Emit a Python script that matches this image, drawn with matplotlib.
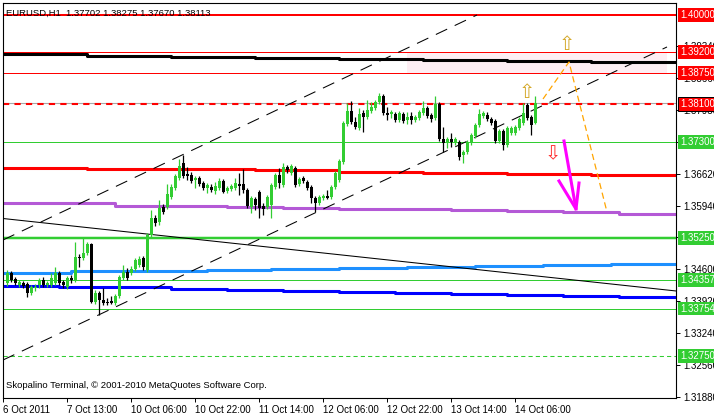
import numpy as np
import matplotlib
matplotlib.use("Agg")
import matplotlib.pyplot as plt
from matplotlib.transforms import blended_transform_factory

plt.rcParams["font.family"] = ["Liberation Sans", "DejaVu Sans"]

# ---------- EURUSD H1 candles (bar 1 .. 133) ----------
opens = [
    1.3430, 1.3451, 1.3438, 1.3425, 1.3430, 1.3428, 1.3408, 1.3419, 1.3425, 1.3436,
    1.3425, 1.3425, 1.3430, 1.3451, 1.3432, 1.3421, 1.3440, 1.3436, 1.3485, 1.3483,
    1.3493, 1.3513, 1.3389, 1.3408, 1.3394, 1.3389, 1.3391, 1.3387, 1.3402, 1.3440,
    1.3453, 1.3451, 1.3459, 1.3468, 1.3483, 1.3457, 1.3532, 1.3568, 1.3559, 1.3591,
    1.3591, 1.3612, 1.3632, 1.3653, 1.3685, 1.3661, 1.3659, 1.3649, 1.3653, 1.3642,
    1.3632, 1.3634, 1.3625, 1.3632, 1.3646, 1.3625, 1.3629, 1.3632, 1.3640, 1.3640,
    1.3627, 1.3591, 1.3608, 1.3623, 1.3593, 1.3591, 1.3595, 1.3634, 1.3659, 1.3638,
    1.3676, 1.3663, 1.3674, 1.3640, 1.3653, 1.3644, 1.3634, 1.3610, 1.3600, 1.3610,
    1.3615, 1.3612, 1.3634, 1.3649, 1.3687, 1.3768, 1.3795, 1.3772, 1.3759, 1.3791,
    1.3782, 1.3795, 1.3802, 1.3814, 1.3827, 1.3791, 1.3789, 1.3789, 1.3776, 1.3789,
    1.3776, 1.3785, 1.3776, 1.3780, 1.3791, 1.3802, 1.3787, 1.3780, 1.3810, 1.3736,
    1.3727, 1.3736, 1.3727, 1.3729, 1.3702, 1.3708, 1.3727, 1.3742, 1.3765, 1.3785,
    1.3787, 1.3778, 1.3774, 1.3731, 1.3753, 1.3723, 1.3748, 1.3748, 1.3759, 1.3770,
    1.3808, 1.3782, 1.37702,
]
highs = [
    1.3457, 1.3455, 1.3442, 1.3436, 1.3434, 1.3432, 1.3425, 1.3428, 1.3440, 1.3442,
    1.3434, 1.3451, 1.3464, 1.3455, 1.3436, 1.3445, 1.3447, 1.3517, 1.3491, 1.3525,
    1.3517, 1.3515, 1.3415, 1.3413, 1.3419, 1.3398, 1.3402, 1.3406, 1.3447, 1.3468,
    1.3462, 1.3466, 1.3483, 1.3487, 1.3487, 1.3536, 1.3585, 1.3574, 1.3606, 1.3598,
    1.3640, 1.3640, 1.3661, 1.3693, 1.3702, 1.3676, 1.3666, 1.3657, 1.3657, 1.3646,
    1.3642, 1.3640, 1.3644, 1.3653, 1.3651, 1.3636, 1.3640, 1.3653, 1.3663, 1.3672,
    1.3632, 1.3615, 1.3612, 1.3627, 1.3600, 1.3617, 1.3642, 1.3663, 1.3674, 1.3685,
    1.3680, 1.3683, 1.3678, 1.3655, 1.3657, 1.3649, 1.3638, 1.3615, 1.3617, 1.3619,
    1.3627, 1.3638, 1.3668, 1.3693, 1.3774, 1.3812, 1.3816, 1.3782, 1.3802, 1.3797,
    1.3819, 1.3814, 1.3819, 1.3833, 1.3831, 1.3804, 1.3797, 1.3793, 1.3795, 1.3793,
    1.3793, 1.3793, 1.3787, 1.3797, 1.3816, 1.3806, 1.3791, 1.3827, 1.3814, 1.3761,
    1.3740, 1.3748, 1.3740, 1.3734, 1.3712, 1.3734, 1.3748, 1.3770, 1.3799, 1.3795,
    1.3793, 1.3782, 1.3778, 1.3757, 1.3757, 1.3763, 1.3763, 1.3765, 1.3782, 1.3812,
    1.3812, 1.3787, 1.38275,
]
lows = [
    1.3423, 1.3432, 1.3425, 1.3421, 1.3419, 1.3400, 1.3404, 1.3413, 1.3419, 1.3421,
    1.3421, 1.3421, 1.3425, 1.3425, 1.3419, 1.3417, 1.3430, 1.3432, 1.3464, 1.3479,
    1.3489, 1.3387, 1.3385, 1.3362, 1.3383, 1.3383, 1.3385, 1.3383, 1.3398, 1.3436,
    1.3436, 1.3447, 1.3455, 1.3464, 1.3457, 1.3453, 1.3527, 1.3551, 1.3553, 1.3576,
    1.3587, 1.3608, 1.3627, 1.3649, 1.3653, 1.3649, 1.3642, 1.3632, 1.3636, 1.3627,
    1.3621, 1.3623, 1.3619, 1.3627, 1.3621, 1.3621, 1.3625, 1.3627, 1.3617, 1.3621,
    1.3589, 1.3578, 1.3585, 1.3568, 1.3574, 1.3587, 1.3568, 1.3629, 1.3632, 1.3634,
    1.3663, 1.3659, 1.3634, 1.3636, 1.3642, 1.3627, 1.3600, 1.3581, 1.3595, 1.3606,
    1.3608, 1.3608, 1.3629, 1.3644, 1.3683, 1.3763, 1.3768, 1.3757, 1.3755, 1.3751,
    1.3778, 1.3791, 1.3797, 1.3810, 1.3787, 1.3776, 1.3780, 1.3772, 1.3772, 1.3770,
    1.3768, 1.3768, 1.3772, 1.3776, 1.3787, 1.3780, 1.3772, 1.3776, 1.3731, 1.3708,
    1.3717, 1.3719, 1.3723, 1.3691, 1.3685, 1.3704, 1.3723, 1.3738, 1.3761, 1.3780,
    1.3774, 1.3765, 1.3727, 1.3727, 1.3712, 1.3719, 1.3744, 1.3744, 1.3755, 1.3765,
    1.3776, 1.3744, 1.37670,
]
closes = [
    1.3451, 1.3436, 1.3430, 1.3432, 1.3423, 1.3408, 1.3421, 1.3421, 1.3436, 1.3425,
    1.3430, 1.3440, 1.3451, 1.3430, 1.3425, 1.3440, 1.3436, 1.3485, 1.3483, 1.3493,
    1.3513, 1.3389, 1.3408, 1.3394, 1.3387, 1.3387, 1.3387, 1.3402, 1.3442, 1.3453,
    1.3440, 1.3459, 1.3479, 1.3481, 1.3464, 1.3532, 1.3568, 1.3557, 1.3589, 1.3581,
    1.3619, 1.3634, 1.3657, 1.3678, 1.3657, 1.3657, 1.3646, 1.3653, 1.3640, 1.3632,
    1.3638, 1.3627, 1.3636, 1.3646, 1.3623, 1.3632, 1.3636, 1.3642, 1.3636, 1.3627,
    1.3593, 1.3610, 1.3595, 1.3589, 1.3587, 1.3612, 1.3638, 1.3659, 1.3642, 1.3676,
    1.3670, 1.3678, 1.3638, 1.3651, 1.3646, 1.3632, 1.3610, 1.3600, 1.3612, 1.3615,
    1.3610, 1.3634, 1.3663, 1.3689, 1.3770, 1.3795, 1.3772, 1.3761, 1.3789, 1.3782,
    1.3797, 1.3804, 1.3814, 1.3827, 1.3791, 1.3787, 1.3793, 1.3776, 1.3791, 1.3774,
    1.3782, 1.3776, 1.3782, 1.3793, 1.3802, 1.3785, 1.3778, 1.3810, 1.3736, 1.3727,
    1.3736, 1.3729, 1.3736, 1.3697, 1.3708, 1.3729, 1.3744, 1.3765, 1.3789, 1.3791,
    1.3778, 1.3770, 1.3731, 1.3753, 1.3723, 1.3759, 1.3759, 1.3761, 1.3778, 1.3791,
    1.3780, 1.3765, 1.38113,
]
bars = np.arange(1, len(opens) + 1)

time_ticks = [0, 16, 32, 48, 64, 80, 96, 112, 128]
time_labels = ["6 Oct 2011", "7 Oct 13:00", "10 Oct 06:00", "10 Oct 22:00",
               "11 Oct 14:00", "12 Oct 06:00", "12 Oct 22:00", "13 Oct 14:00",
               "14 Oct 06:00"]
price_ticks = [1.3188, 1.3256, 1.3324, 1.3392, 1.3460, 1.3527, 1.3594,
               1.3662, 1.3730, 1.3798, 1.3866, 1.3934]

# ---------- Horizontal levels ----------
red_levels = [1.4000, 1.3920, 1.3875]
red_widths = [2.0, 1.0, 1.0]
red_dash_level = 1.3810
bid_price = 1.38113
green_levels = [1.3730, 1.3525, 1.34357, 1.33754]
green_widths = [1.0, 2.5, 1.0, 1.0]
green_dash_level = 1.3275
label_levels = [1.4000, 1.3920, 1.3875, 1.3810, 1.3730, 1.3525, 1.34357, 1.33754, 1.3275]
label_texts = ["1.40000", "1.39200", "1.38750", "1.38100", "1.37300",
               "1.35250", "1.34357", "1.33754", "1.32750"]
label_colors = ["red"] * 4 + ["limegreen"] * 5

# ---------- Stepped indicator lines (start bar, value) ----------
black_ma_x = [0, 21, 42, 63, 84, 105, 126, 147]
black_ma_y = [1.39156, 1.39126, 1.39105, 1.39084, 1.39056, 1.39029, 1.39014, 1.38999]
red_ma_x = [0, 21, 42, 63, 84, 105, 126, 147]
red_ma_y = [1.36740, 1.36725, 1.36713, 1.36691, 1.36655, 1.36640, 1.36619, 1.36598]
purple_ma_x = [0, 14, 28, 56, 70, 84, 98, 112, 126, 140, 154]
purple_ma_y = [1.36003, 1.35990, 1.35939, 1.35918, 1.35897, 1.35875, 1.35863,
               1.35841, 1.35833, 1.35812, 1.35769]
sky_ma_x = [0, 17, 34, 51, 67, 84, 101, 118, 135, 152]
sky_ma_y = [1.34519, 1.34545, 1.34558, 1.34579, 1.34600, 1.34621, 1.34636,
            1.34657, 1.34685, 1.34707]
blue_ma_x = [0, 14, 28, 42, 56, 70, 84, 98, 112, 126, 140, 154]
blue_ma_y = [1.34239, 1.34218, 1.34205, 1.34169, 1.34148, 1.34127, 1.34105,
             1.34084, 1.34063, 1.34041, 1.34027, 1.34005]

# ---------- Drawing objects ----------
trend_x = [0, 168.25]
trend_y = [1.35667, 1.34127]
chan_up_x = [0, 118.5]
chan_up_y = [1.35210, 1.39992]
chan_lo_x = [0, 166]
chan_lo_y = [1.32660, 1.39312]
zone_x = [101, 166]
zone_y = [1.3875, 1.3920]
orange_x = [135, 141.5, 151]
orange_y = [1.38207, 1.38993, 1.35805]
magenta_x = [140.25, 143.25]
magenta_y = [1.37314, 1.35869]
head_x = [139, 143.25, 144]
head_y = [1.36464, 1.35869, 1.36421]
up_arrows_x = [141, 131]
up_arrows_y = [1.39375, 1.38355]
down_arrow_x = 137.5
down_arrow_y = 1.37038

X_MAX = 168.25
Y_MIN, Y_MAX = 1.318527, 1.402464

fig = plt.figure(figsize=(7.14, 4.16), dpi=100)
ax = fig.add_axes([3 / 714, 18 / 416, 673 / 714, 395 / 416])
ax.set_xlim(0, X_MAX)
ax.set_ylim(Y_MIN, Y_MAX)

# zone
ax.fill_between(zone_x, zone_y[0], zone_y[1], color="#fdeef3", lw=0, zorder=0)

# levels
for lv, w in zip(red_levels, red_widths):
    ax.axhline(lv, color="red", lw=w * 0.72, zorder=1)
ax.axhline(bid_price, color="#a8a8a8", lw=0.8, zorder=1)
ax.axhline(red_dash_level, color="red", lw=1.5, ls=(0, (3, 2.5)), zorder=1)
for lv, w in zip(green_levels, green_widths):
    ax.axhline(lv, color="limegreen", lw=w * 0.72, zorder=1)
ax.axhline(green_dash_level, color="limegreen", lw=0.75, ls=(0, (4, 3)), zorder=1)

# stepped lines
def step_line(xs, ys, color, lw):
    ax.step(list(xs) + [X_MAX], list(ys) + [ys[-1]], where="post",
            color=color, lw=lw, zorder=2)

step_line(black_ma_x, black_ma_y, "black", 2.2)
step_line(red_ma_x, red_ma_y, "red", 2.2)
step_line(purple_ma_x, purple_ma_y, "#b459d6", 2.2)
step_line(sky_ma_x, sky_ma_y, "#1e90ff", 2.2)
step_line(blue_ma_x, blue_ma_y, "blue", 2.2)

# trend lines
ax.plot(trend_x, trend_y, color="black", lw=0.75, zorder=2)
ax.plot(chan_up_x, chan_up_y, color="black", lw=0.75, ls=(0, (12, 8)), zorder=2)
ax.plot(chan_lo_x, chan_lo_y, color="black", lw=0.75, ls=(0, (12, 8)), zorder=2)

# candles
for b, o, h, l, c in zip(bars, opens, highs, lows, closes):
    col = "limegreen" if c >= o else "black"
    ax.vlines(b, l, h, color=col, lw=0.9, zorder=3)
    bot, top = min(o, c), max(o, c)
    ax.bar(b, max(top - bot, 0.0002), bottom=bot, width=0.75,
           color=col, lw=0, zorder=3)

# projection
ax.plot(orange_x, orange_y, color="orange", lw=0.9, ls=(0, (5, 3)), zorder=4)
ax.plot(magenta_x, magenta_y, color="magenta", lw=2.2, zorder=4)
ax.plot(head_x, head_y, color="magenta", lw=2.2, zorder=4, solid_joinstyle="miter")
for ux, uy in zip(up_arrows_x, up_arrows_y):
    ax.text(ux, uy, "\u21e7", color="#d4a828", fontsize=14, ha="center",
            va="center", family="DejaVu Sans", zorder=5)
ax.text(down_arrow_x, down_arrow_y, "\u21e9", color="#ff3030", fontsize=14,
        ha="center", va="center", family="DejaVu Sans", zorder=5)

# axes styling
for s in ax.spines.values():
    s.set_color("black")
    s.set_linewidth(0.8)
ax.yaxis.tick_right()
ax.set_yticks(price_ticks)
ax.set_yticklabels([f"{p:.5f}" for p in price_ticks])
ax.set_xticks(time_ticks)
ax.set_xticklabels(time_labels)
for lbl in ax.get_xticklabels():
    lbl.set_ha("left")
ax.tick_params(axis="both", direction="out", length=3, width=0.7,
               labelsize=7, pad=2, colors="black")

# level labels on price axis
trans = blended_transform_factory(ax.transAxes, ax.transData)
for lv, txt, col in zip(label_levels, label_texts, label_colors):
    ec = "black" if lv == red_dash_level else "none"
    ax.text(1.006, lv, txt, transform=trans, color="white", fontsize=7,
            ha="left", va="center", clip_on=False, zorder=10,
            bbox=dict(boxstyle="square,pad=0.2", fc=col, ec=ec, lw=0.7))

ax.text(0.005, 0.985, "EURUSD,H1  1.37702 1.38275 1.37670 1.38113",
        transform=ax.transAxes, fontsize=6.8, ha="left", va="top", zorder=6)
ax.text(0.005, 0.02, "Skopalino Terminal, \u00a9 2001-2010 MetaQuotes Software Corp.",
        transform=ax.transAxes, fontsize=6.8, ha="left", va="bottom", zorder=6)

fig.savefig("out.png", dpi=100)
